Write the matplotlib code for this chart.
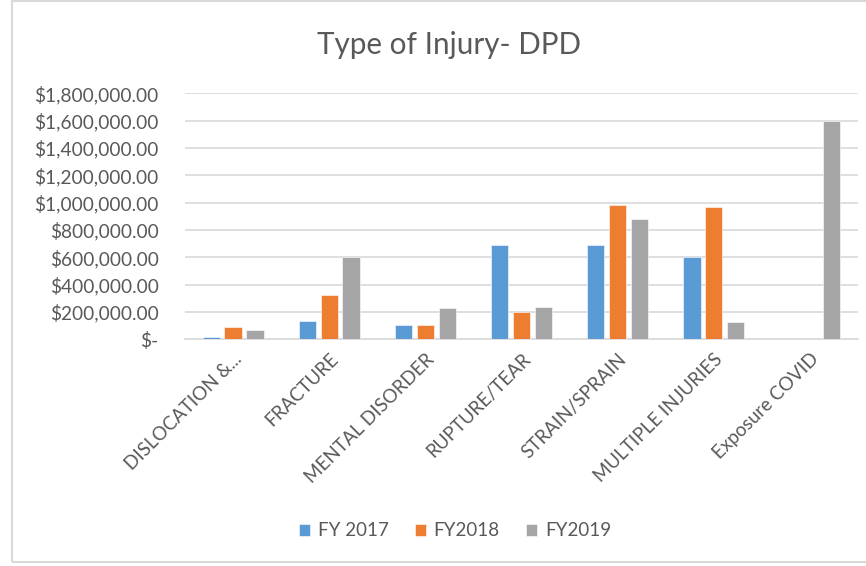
import numpy as np
import matplotlib
matplotlib.use('Agg')
import matplotlib.pyplot as plt
from matplotlib.patches import Rectangle

plt.rcParams['font.family'] = ['Lato', 'DejaVu Sans']

categories = ["DISLOCATION &...", "FRACTURE", "MENTAL DISORDER", "RUPTURE/TEAR",
              "STRAIN/SPRAIN", "MULTIPLE INJURIES", "Exposure COVID"]
series_names = ["FY 2017", "FY2018", "FY2019"]
fy2017 = [15000, 136000, 102000, 690000, 690000, 605000, 0]
fy2018 = [92000, 322000, 102000, 197000, 980000, 970000, 0]
fy2019 = [68000, 605000, 229000, 236000, 878000, 127000, 1597000]
y_ticks = np.arange(0, 1800001, 200000)

colors = ['#5B9BD5', '#ED7D31', '#A5A5A5']
text_col = '#595959'
grid_col = '#D9D9D9'

W, H = 866, 566
fig = plt.figure(figsize=(W / 100, H / 100), dpi=100)

# outer chart border
fig.patches.append(Rectangle((12 / W, 4 / H), 1.0, (565 - 4) / H, transform=fig.transFigure,
                             fill=False, edgecolor=grid_col, linewidth=1.5))

ax = fig.add_axes([185 / W, (H - 339.3) / H, (858 - 185) / W, (339.3 - 93.3) / H])

x = np.arange(len(categories))
bw = 0.18
step = 0.227
for i, vals in enumerate([fy2017, fy2018, fy2019]):
    ax.bar(x + (i - 1) * step, vals, width=bw, color=colors[i], label=series_names[i],
           edgecolor='white', linewidth=0.4, zorder=3)

ax.set_xlim(-0.5, len(categories) - 0.5)
ax.set_ylim(0, 1800000)
ax.set_yticks(y_ticks)
ax.set_yticklabels(["$-" if v == 0 else "${:,.2f}".format(v) for v in y_ticks])
ax.grid(axis='y', color=grid_col, linewidth=1.2, zorder=0)
for s in ['top', 'right', 'left']:
    ax.spines[s].set_visible(False)
ax.spines['bottom'].set_color(grid_col)
ax.spines['bottom'].set_linewidth(1.2)
ax.tick_params(axis='both', length=0, labelcolor=text_col, labelsize=13.5)
ax.tick_params(axis='y', pad=27)
ax.tick_params(axis='y', labelsize=13.8, pad=19)

ax.set_xticks(x)
ax.set_xticklabels(categories, rotation=45, ha='right', rotation_mode='anchor')
ax.tick_params(axis='x', pad=8)

fig.text(449 / W, 1 - 45 / H, "Type of Injury- DPD", ha='center', va='center',
         fontsize=21.3, color=text_col)

fig.legend(loc='center', bbox_to_anchor=(455 / W, 1 - 531 / H), ncol=3, frameon=False,
           fontsize=13.5, labelcolor=text_col, handlelength=0.6, handleheight=0.6,
           handletextpad=0.4, columnspacing=1.4)

fig.savefig('out.png', dpi=100)
